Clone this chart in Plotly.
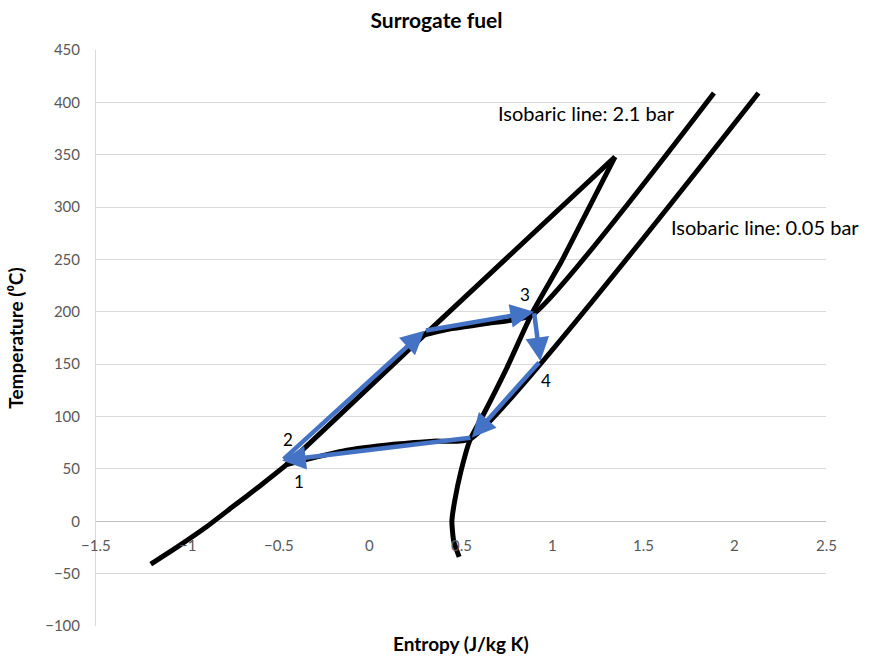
import plotly.graph_objects as go

# ---- data ----
liquid_s = [-1.2, -1.05, -0.9, -0.75, -0.6, -0.45, 0.3, 1.344]
liquid_T = [-41, -24, -6, 14, 34, 55, 178, 348]

vapor_s = [1.344, 1.2, 1.05, 0.89, 0.75, 0.62, 0.55, 0.5, 0.465, 0.45, 0.46, 0.49]
vapor_T = [348, 299, 248, 199, 146, 101, 78, 48, 19, 0, -19, -34]

hp_s = [0.3, 0.45, 0.65, 0.89, 1.886]          # isobar 2.1 bar
hp_T = [178, 184, 189, 197, 409]

lp_s = [-0.46, -0.15, 0.13, 0.35, 0.55, 2.13]  # isobar 0.05 bar
lp_T = [54, 67, 73.5, 76.5, 78.5, 409]

cyc_s = [-0.48, 0.30, 0.90, 0.935, 0.56, -0.48]  # cycle 2 -> 3 -> 4 -> back
cyc_T = [58, 182, 200, 153, 80, 58]

pt_labels = ["1", "2", "3", "4"]
pt_s = [-0.39, -0.45, 0.85, 0.965]
pt_T = [38, 78, 217, 134]

iso_labels = ["Isobaric line: 2.1 bar", "Isobaric line: 0.05 bar"]
iso_s = [0.69, 1.64]
iso_T = [390, 281]

x_ticks = [-1.5, -1, -0.5, 0, 0.5, 1, 1.5, 2, 2.5]
y_ticks = [-100, -50, 0, 50, 100, 150, 200, 250, 300, 350, 400, 450]

FONT = "Lato"
BLACK = "#000000"
BLUE = "#4472C4"
GREY = "#595959"

fig = go.Figure()
for s, T in [(liquid_s, liquid_T), (vapor_s, vapor_T), (hp_s, hp_T), (lp_s, lp_T)]:
    fig.add_trace(go.Scatter(x=s, y=T, mode="lines",
                             line=dict(color=BLACK, width=5, shape="spline", smoothing=0.5),
                             hoverinfo="skip", showlegend=False))

annotations = []
# cycle arrows
for i in range(len(cyc_s) - 1):
    annotations.append(dict(x=cyc_s[i + 1], y=cyc_T[i + 1], ax=cyc_s[i], ay=cyc_T[i],
                            xref="x", yref="y", axref="x", ayref="y", text="",
                            showarrow=True, arrowhead=2, arrowsize=1.05, arrowwidth=4.5,
                            arrowcolor=BLUE, standoff=0, startstandoff=0))
# point labels
for t, s, T in zip(pt_labels, pt_s, pt_T):
    annotations.append(dict(x=s, y=T, xref="x", yref="y", text=t, showarrow=False,
                            font=dict(family=FONT, size=17, color="#000000")))
# isobar labels
for t, s, T in zip(iso_labels, iso_s, iso_T):
    annotations.append(dict(x=s, y=T, xref="x", yref="y", text=t, showarrow=False,
                            xanchor="left", font=dict(family=FONT, size=20, color="#000000")))
# x tick labels placed along the zero line (Excel style)
for v in x_ticks:
    annotations.append(dict(x=v, y=0, xref="x", yref="y", text=f"{v:g}".replace("-", "\u2212"),
                            showarrow=False, yanchor="top", yshift=-13,
                            font=dict(family=FONT, size=15, color=GREY)))
# x axis title
annotations.append(dict(x=0.5, y=0, xref="paper", yref="paper", text="<b>Entropy (J/kg K)</b>",
                        showarrow=False, yanchor="middle", yshift=-17,
                        font=dict(family=FONT, size=19, color="#000000")))

fig.update_layout(
    width=873, height=656,
    paper_bgcolor="white", plot_bgcolor="white",
    margin=dict(l=96, r=47, t=50, b=30),
    title=dict(text="<b>Surrogate fuel</b>", x=0.5, xanchor="center", y=0.969, yanchor="middle",
               font=dict(family=FONT, size=21, color="#000000")),
    xaxis=dict(range=[-1.5, 2.5], showgrid=False, zeroline=False, showticklabels=False,
               showline=False, fixedrange=True),
    yaxis=dict(range=[-100, 450], tickvals=y_ticks, showgrid=True, gridcolor="#d9d9d9", gridwidth=1,
               zeroline=True, zerolinecolor="#bfbfbf", zerolinewidth=1.3,
               showline=True, linecolor="#d9d9d9", linewidth=1,
               ticks="", ticklabelstandoff=12,
               tickfont=dict(family=FONT, size=15, color=GREY),
               title=dict(text="<b>Temperature (\u2070C)</b>", standoff=16,
                          font=dict(family=FONT, size=19, color="#000000"))),
    annotations=annotations,
    font=dict(family=FONT),
)

fig.write_html("out.html", config={"displayModeBar": False},
               post_script="document.body.style.margin='0';")
